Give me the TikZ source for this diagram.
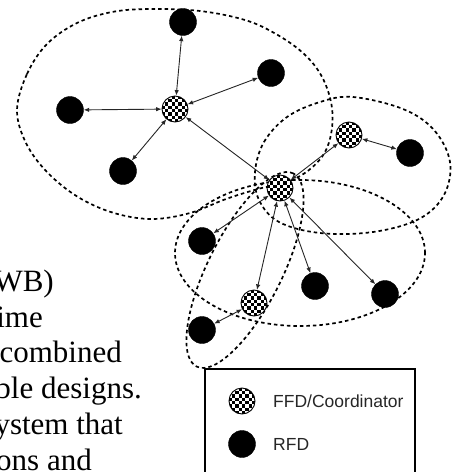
\documentclass[tikz,border=0pt]{standalone}
\usepackage{fontspec}
\setmainfont{Liberation Serif}
\newfontfamily\legendfont{Liberation Sans}
\usetikzlibrary{arrows.meta}

\tikzset{
  rfd/.style={circle, fill=black, draw=black, minimum size=27pt, inner sep=0pt},
  coord/.style={circle, draw=black, line width=0.9pt, fill=white, minimum size=26pt, inner sep=0pt,
    path picture={
      \foreach \i in {-4,...,3} {
        \foreach \j in {-4,...,3} {
          \pgfmathtruncatemacro\parity{mod(\i+\j+8,2)}
          \ifnum\parity=0
            \fill[black] ([shift={(\i*3.3pt,\j*3.3pt)}]path picture bounding box.center)
              rectangle ++(3.3pt,3.3pt);
          \fi
        }
      }
    }},
  ring/.style={draw=black, line width=1.7pt, dash pattern=on 3.5pt off 3pt},
  link/.style={draw=black!85, line width=0.9pt,
    {Latex[length=5.5pt,width=4.5pt]}-{Latex[length=5.5pt,width=4.5pt]}},
  bodytext/.style={anchor=base east, inner sep=0pt, font=\fontsize{31}{36}\selectfont},
  legendtext/.style={anchor=west, inner sep=0pt, font=\legendfont\fontsize{17.5}{20}\selectfont, text=black!85}
}

\begin{document}
\begin{tikzpicture}[x=1pt, y=-1pt]
  \useasboundingbox (0,0) rectangle (457,472);
  \clip (0,0) rectangle (457,472);

  % coverage areas
  \draw[ring] plot[smooth cycle, tension=0.6] coordinates {
    (17,110) (27,74) (47,44) (77,23) (112,12) (150,9) (200,11) (245,20)
    (276,34) (303,53) (321,75) (331,102) (332,128) (325,152) (309,170)
    (287,182) (258,189) (226,199) (190,213) (152,219) (114,213) (78,197)
    (47,172) (26,143)};
  \draw[ring] plot[smooth cycle, tension=0.6] coordinates {
    (255,172) (264,142) (287,117) (320,102) (353,97) (403,109) (434,130)
    (450,162) (444,195) (419,219) (373,232) (320,233) (279,222) (259,200)};
  \draw[ring] (300,253) ellipse [x radius=125pt, y radius=73pt];
  \draw[ring, rotate around={63.4:(245,270)}] (245,270) ellipse [x radius=108pt, y radius=37pt];

  % coordinators
  \node[coord] (a) at (175,109) {};
  \node[coord] (b) at (280,188) {};
  \node[coord] (c) at (349,135) {};
  \node[coord] (d) at (254,303) {};

  % reduced-function devices
  \node[rfd] (r1) at (183,22) {};
  \node[rfd] (r2) at (70,110) {};
  \node[rfd] (r3) at (123,171) {};
  \node[rfd] (r4) at (271,73) {};
  \node[rfd] (r5) at (410,153) {};
  \node[rfd] (r6) at (202,241) {};
  \node[rfd] (r7) at (315,286) {};
  \node[rfd] (r8) at (385,294) {};
  \node[rfd] (r9) at (202,330) {};

  % links
  \draw[link] (a) -- (r1);
  \draw[link] (a) -- (r2);
  \draw[link] (a) -- (r3);
  \draw[link] (a) -- (r4);
  \draw[link] (a) -- (b);
  \draw[link] (b) -- (c);
  \draw[link] (c) -- (r5);
  \draw[link] (b) -- (r6);
  \draw[link] (b) -- (d);
  \draw[link] (b) -- (r7);
  \draw[link] (b) -- (r8);
  \draw[link] (d) -- (r9);

  % legend
  \draw[line width=1.2pt] (205,369) rectangle (415,495);
  \node[coord] (lc) at (242,401) {};
  \node[rfd] (lr) at (242,444) {};
  \node[legendtext] (lct) at (273,401) {FFD/Coordinator};
  \node[legendtext] (lrt) at (273,444) {RFD};

  % surrounding page text
  \node[bodytext] (t1) at (54,291) {WB)};
  \node[bodytext] (t2) at (43,327) {ime};
  \node[bodytext] (t3) at (122,362) {combined};
  \node[bodytext] (t4) at (142,398) {ble designs.};
  \node[bodytext] (t5) at (123,434) {ystem that};
  \node[bodytext] (t6) at (92,470) {ons and};
\end{tikzpicture}
\end{document}
